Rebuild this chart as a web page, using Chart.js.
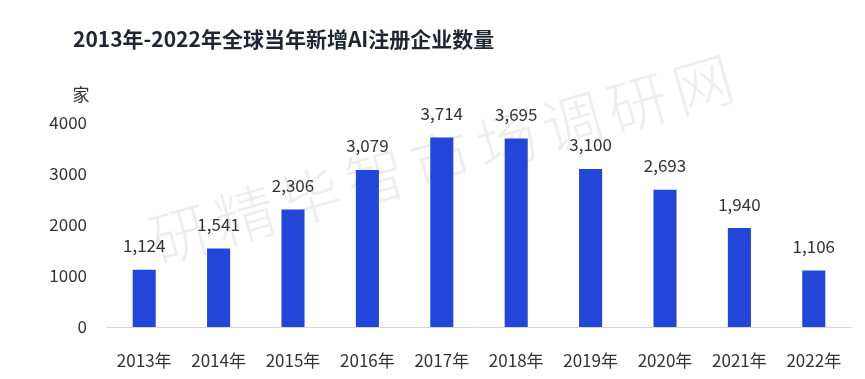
<!DOCTYPE html>
<html>
<head>
<meta charset="utf-8">
<script src="https://cdn.jsdelivr.net/npm/chart.js@4/dist/chart.umd.min.js"></script>
<style>
html,body{margin:0;padding:0;background:#fff;}
#wrap{width:865px;height:379px;position:relative;}
</style>
</head>
<body>
<div id="wrap"><canvas id="c"></canvas></div>
<script>
const categories = ['2013年','2014年','2015年','2016年','2017年','2018年','2019年','2020年','2021年','2022年'];
const values = [1124, 1541, 2306, 3079, 3714, 3695, 3100, 2693, 1940, 1106];
const yTicks = [0, 1000, 2000, 3000, 4000];
const titleText = '2013年-2022年全球当年新增AI注册企业数量';
const unitText = '家';
const watermarkText = '研精毕智市场调研网';

const FONT = '"Noto Sans CJK SC", "Noto Sans", sans-serif';

const extras = {
  id: 'extras',
  beforeDatasetsDraw(chart) {
    const ctx = chart.ctx;
    ctx.save();
    ctx.translate(445, 158);
    ctx.rotate(-16 * Math.PI / 180);
    ctx.font = '300 60px ' + FONT;
    ctx.fillStyle = 'rgba(150,150,150,0.17)';
    ctx.textAlign = 'center';
    ctx.textBaseline = 'middle';
    if ('letterSpacing' in ctx) ctx.letterSpacing = '8px';
    ctx.fillText(watermarkText, 0, 0);
    ctx.restore();
  },
  afterDatasetsDraw(chart) {
    const ctx = chart.ctx;
    ctx.save();
    ctx.font = 'bold 21px ' + FONT;
    ctx.fillStyle = '#1e2633';
    ctx.textAlign = 'left';
    ctx.textBaseline = 'middle';
    ctx.fillText(titleText, 73, 39);
    ctx.font = '17px ' + FONT;
    ctx.fillStyle = '#333';
    ctx.textAlign = 'center';
    ctx.fillText(unitText, 81, 95);
    const meta = chart.getDatasetMeta(0);
    meta.data.forEach((bar, i) => {
      ctx.fillText(values[i].toLocaleString('en-US'), bar.x, bar.y - 24);
    });
    ctx.restore();
  }
};

new Chart(document.getElementById('c'), {
  type: 'bar',
  data: {
    labels: categories,
    datasets: [{
      data: values,
      backgroundColor: '#2146d9',
      borderWidth: 0,
      barPercentage: 0.31,
      categoryPercentage: 1
    }]
  },
  options: {
    responsive: true,
    maintainAspectRatio: false,
    animation: false,
    layout: { padding: { top: 123, right: 14, left: 0, bottom: 0 } },
    plugins: { legend: { display: false }, title: { display: false }, tooltip: { enabled: false } },
    scales: {
      x: {
        grid: { display: false, drawTicks: false },
        border: { display: true, color: '#d6d6d6', width: 1 },
        ticks: { color: '#333', font: { family: FONT, size: 17 }, padding: 23 },
        afterFit(s) { s.height = 52; }
      },
      y: {
        min: 0, max: 4000,
        grid: { display: false, drawTicks: false },
        border: { display: false },
        afterBuildTicks(s) { s.ticks = yTicks.map(v => ({ value: v })); },
        ticks: { color: '#333', font: { family: FONT, size: 17 }, padding: 20, callback: v => String(v) },
        afterFit(s) { s.width = 107; }
      }
    }
  },
  plugins: [extras]
});
</script>
</body>
</html>
